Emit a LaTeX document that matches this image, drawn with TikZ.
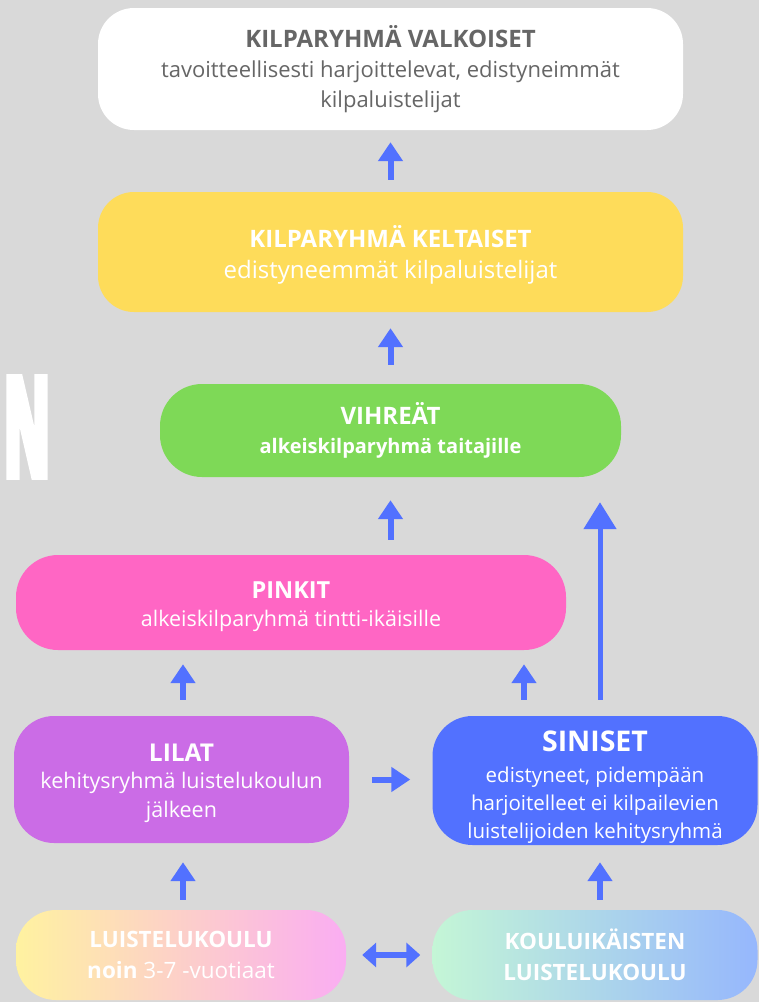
\documentclass[tikz,border=0pt]{standalone}
\usepackage{fontspec}
\setmainfont{Open Sans}
\newfontfamily\narrowf[FakeStretch=0.4,FakeBold=4]{Open Sans}
\usetikzlibrary{arrows.meta,calc}
\definecolor{bg}{HTML}{D9D9D9}
\definecolor{greyt}{HTML}{666666}
\definecolor{yel}{HTML}{FEDC5A}
\definecolor{grn}{HTML}{7ED957}
\definecolor{pnk}{HTML}{FF66C4}
\definecolor{lil}{HTML}{CB6CE6}
\definecolor{blu}{HTML}{5271FF}
\definecolor{arrc}{HTML}{5271FF}
\definecolor{gA}{HTML}{FFF2A0}
\definecolor{gB}{HTML}{FDCCD6}
\definecolor{gC}{HTML}{FAADF2}
\definecolor{hA}{HTML}{C4F6D6}
\definecolor{hB}{HTML}{B2DCEA}
\definecolor{hC}{HTML}{96B7FD}
\tikzset{
  box/.style={rectangle, rounded corners=#1, inner sep=0pt, align=center, text=white},
  arr/.style={draw=arrc, line width=6pt, -{Triangle[width=24pt,length=19pt]}},
  longarr/.style={draw=arrc, line width=5pt, -{Triangle[width=32pt,length=27pt]}},
  dblarr/.style={draw=arrc, line width=6pt, {Triangle[width=24pt,length=14pt]}-{Triangle[width=24pt,length=14pt]}}
}
\begin{document}
\begin{tikzpicture}[x=1pt,y=-1pt]
\fill[bg] (0,0) rectangle (759,1002);
\useasboundingbox (0,0) rectangle (759,1002);

% N
\node[text=white, font=\narrowf\bfseries\fontsize{140}{140}\selectfont, anchor=center, inner sep=0pt] (bigN) at (27,427) {N};

% white
\node[box=36pt, fill=white, text=greyt, minimum width=585pt, minimum height=122pt,
  font=\fontsize{22}{30}\selectfont] (white) at (390.5,69)
  {{\fontsize{24}{31}\selectfont\bfseries KILPARYHMÄ VALKOISET}\\tavoitteellisesti harjoittelevat, edistyneimmät\\kilpaluistelijat};
% yellow
\node[box=36pt, fill=yel, minimum width=585pt, minimum height=120pt,
  font=\fontsize{24}{31}\selectfont] (yellow) at (390.5,252)
  {{\fontsize{24}{31}\selectfont\bfseries\rule{0pt}{27pt}KILPARYHMÄ KELTAISET}\\edistyneemmät kilpaluistelijat};
% green
\node[box=42pt, fill=grn, minimum width=461pt, minimum height=93pt,
  font=\fontsize{20}{29}\selectfont\bfseries] (green) at (390.5,430.5)
  {{\fontsize{24}{29}\selectfont VIHREÄT}\\alkeiskilparyhmä taitajille};
% pink
\node[box=42pt, fill=pnk, minimum width=550pt, minimum height=95pt,
  font=\fontsize{21.5}{28}\selectfont] (pink) at (291,602.5)
  {{\fontsize{23.5}{28}\selectfont\bfseries\rule{0pt}{25pt}PINKIT}\\alkeiskilparyhmä tintti-ikäisille};
% lilat
\node[box=40pt, fill=lil, minimum width=335pt, minimum height=127pt,
  font=\fontsize{21.5}{29}\selectfont] (lilat) at (181.5,779.5)
  {{\fontsize{24.5}{29}\selectfont\bfseries\rule{0pt}{25.5pt}LILAT}\\[-2pt]kehitysryhmä luistelukoulun\\jälkeen};
% siniset
\node[box=40pt, fill=blu, minimum width=325pt, minimum height=129pt,
  font=\fontsize{20.5}{28}\selectfont] (siniset) at (595,780.5)
  {{\fontsize{28.5}{34}\selectfont\bfseries\rule{0pt}{34pt}SINISET}\\[3pt]edistyneet, pidempään\\harjoitelleet ei kilpailevien\\luistelijoiden kehitysryhmä};
% bottom left
\node[box=40pt, left color=gA, middle color=gB, right color=gC, minimum width=330pt, minimum height=90pt,
  font=\fontsize{22.5}{31}\selectfont] (luist) at (181,955)
  {{\bfseries LUISTELUKOULU}\\{\bfseries noin} 3-7 -vuotiaat};
% bottom right
\node[box=40pt, left color=hA, middle color=hB, right color=hC, minimum width=325pt, minimum height=90pt,
  font=\fontsize{22.5}{31}\selectfont\bfseries] (koulu) at (595,955)
  {KOULUIKÄISTEN\\LUISTELUKOULU};

% arrows
\draw[arr, shorten <=12pt, shorten >=12pt] (yellow.north) -- (white.south);
\draw[arr, shorten <=19pt, shorten >=16pt] (green.north) -- (yellow.south);
\draw[arr, shorten <=15pt, shorten >=23pt] (green.south |- pink.north) -- (green.south);
\draw[longarr, shorten <=16pt, shorten >=25pt] ([xshift=5pt]siniset.north) -- ([xshift=5pt]siniset.north |- green.south);
\draw[arr, shorten <=16pt, shorten >=14pt] ([xshift=1.5pt]lilat.north) -- ([xshift=1.5pt]lilat.north |- pink.south);
\draw[arr, shorten <=16pt, shorten >=14pt] ([xshift=-71pt]siniset.north) -- ([xshift=-71pt]siniset.north |- pink.south);
\draw[arr, shorten <=23pt, shorten >=22pt] (lilat.east) -- (lilat.east -| siniset.west);
\draw[arr, shorten <=10pt, shorten >=19pt] ([xshift=2pt]luist.north) -- ([xshift=2pt]luist.north |- lilat.south);
\draw[arr, shorten <=10pt, shorten >=17pt] ([xshift=5pt]koulu.north) -- ([xshift=5pt]koulu.north |- siniset.south);
\draw[dblarr, shorten <=16pt, shorten >=12pt] (luist.east) -- (koulu.west);
\end{tikzpicture}
\end{document}
